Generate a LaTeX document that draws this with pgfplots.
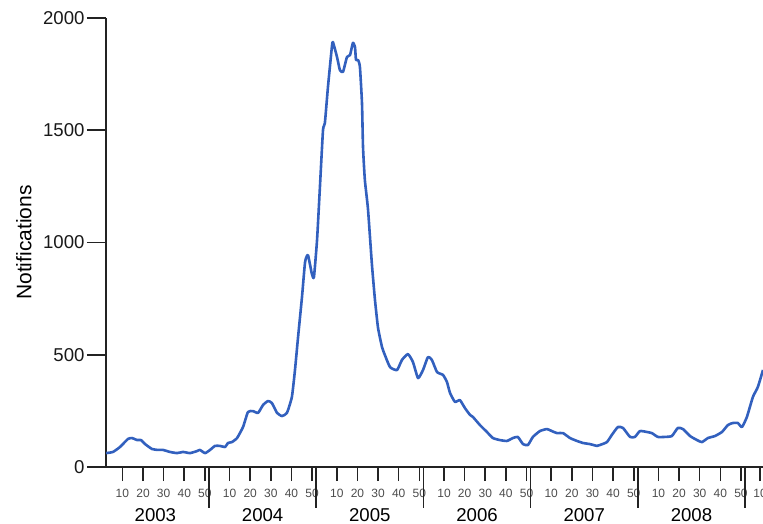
\documentclass[border=0pt]{standalone}
\usepackage{pgfplots}
\pgfplotsset{compat=1.18}
\usepackage{fontspec}
\setmainfont{Liberation Sans}
\definecolor{lineblue}{RGB}{50,96,190}
\definecolor{axgray}{RGB}{35,35,35}
\begin{document}
\begin{tikzpicture}
\useasboundingbox (0pt,0pt) rectangle (763pt,-524pt);
\begin{axis}[
  at={(106pt,-467pt)}, anchor=south west,
  scale only axis, width=665.85pt, height=449pt,
  xmin=2.04, xmax=325, ymin=0, ymax=2000,
  axis lines*=left,
  axis line style={axgray, line width=1.6pt},
  clip=false,
  ytick={0,500,1000,1500,2000},
  xtick={10,20,30,40,50,62,72,82,92,102,114,124,134,144,154,166,176,186,196,206,218,228,238,248,258,270,280,290,300,310,319.3},
  xticklabels={10,20,30,40,50,10,20,30,40,50,10,20,30,40,50,10,20,30,40,50,10,20,30,40,50,10,20,30,40,50,10},
  tick align=outside,
  major tick length=14pt,
  tick style={axgray, line width=1.6pt},
  ytick style={/pgfplots/major tick length=19pt},
  /pgf/number format/assume math mode=true,
  /pgf/number format/1000 sep={},
  yticklabel style={font=\fontsize{18.6}{20}\selectfont, color=black!90, xshift=-4pt},
  xticklabel style={font=\fontsize{12}{12}\selectfont, color=black!70, anchor=base, yshift=-16pt},
  ylabel={Notifications},
  every axis y label/.style={at={(axis description cs:-0.1232,0.5)}, rotate=90, anchor=center, font=\fontsize{21}{23}\selectfont},
]
\addplot[lineblue, line width=2.6pt, line join=round, smooth, tension=0.3] table {
2.1 62
5.4 67
8.8 89
12.7 125
14.7 129
17.1 120
19.0 120
21.0 102
24.4 80
27.3 76
29.7 76
33.1 67
36.5 62
39.4 67
42.8 62
46.2 71
47.6 76
50.1 62
52.5 76
54.9 94
57.3 94
59.8 89
61.2 107
63.1 111
65.6 129
68.5 178
70.9 245
73.3 249
75.8 241
78.2 276
80.6 294
82.5 285
85.0 241
87.4 227
89.8 241
92.2 312
93.7 432
95.2 579
97.1 757
98.6 913
100.0 944
101.9 860
102.9 846
104.4 1011
105.8 1247
107.3 1501
108.2 1532
109.7 1693
111.6 1871
112.1 1893
114.1 1826
115.5 1768
117.0 1760
118.9 1826
120.4 1835
121.8 1889
122.8 1871
123.3 1813
124.3 1813
125.2 1782
126.2 1621
126.7 1425
127.6 1278
129.1 1150
131.0 905
132.5 744
134.0 619
135.9 535
137.3 499
139.8 445
143.2 432
145.6 477
148.5 503
150.9 468
153.4 396
155.8 432
158.2 490
160.1 477
162.6 423
165.5 410
167.4 379
168.9 330
171.3 290
173.7 298
176.1 263
178.6 232
180.0 223
183.4 187
186.8 156
189.7 129
193.1 120
196.5 116
199.4 129
201.8 134
204.3 102
206.7 98
209.1 134
212.5 160
215.9 169
218.3 160
220.8 151
223.7 151
227.1 129
230.5 116
233.4 107
236.8 102
240.2 94
241.6 98
245.0 111
247.4 143
250.3 178
252.8 174
256.2 134
258.6 134
261.0 160
264.4 156
266.8 151
269.7 134
273.1 134
276.5 138
279.4 174
281.9 169
285.3 138
288.7 120
291.1 111
294.0 129
297.4 138
300.8 156
303.7 187
306.1 196
308.5 196
310.5 178
312.9 223
315.8 312
318.2 356
320.7 432
};
\pgfplotsinvokeforeach{52,104,156,208,260,312}{
  \draw[axgray, line width=1.6pt] (axis cs:#1,0) -- ++(0pt,-41pt);
}
\node[font=\fontsize{18.6}{20}\selectfont, anchor=base, inner sep=0pt] at ([yshift=-54.5pt]axis cs:26,0) {2003};
\node[font=\fontsize{18.6}{20}\selectfont, anchor=base, inner sep=0pt] at ([yshift=-54.5pt]axis cs:78,0) {2004};
\node[font=\fontsize{18.6}{20}\selectfont, anchor=base, inner sep=0pt] at ([yshift=-54.5pt]axis cs:130,0) {2005};
\node[font=\fontsize{18.6}{20}\selectfont, anchor=base, inner sep=0pt] at ([yshift=-54.5pt]axis cs:182,0) {2006};
\node[font=\fontsize{18.6}{20}\selectfont, anchor=base, inner sep=0pt] at ([yshift=-54.5pt]axis cs:234,0) {2007};
\node[font=\fontsize{18.6}{20}\selectfont, anchor=base, inner sep=0pt] at ([yshift=-54.5pt]axis cs:286,0) {2008};
\end{axis}
\end{tikzpicture}
\end{document}
